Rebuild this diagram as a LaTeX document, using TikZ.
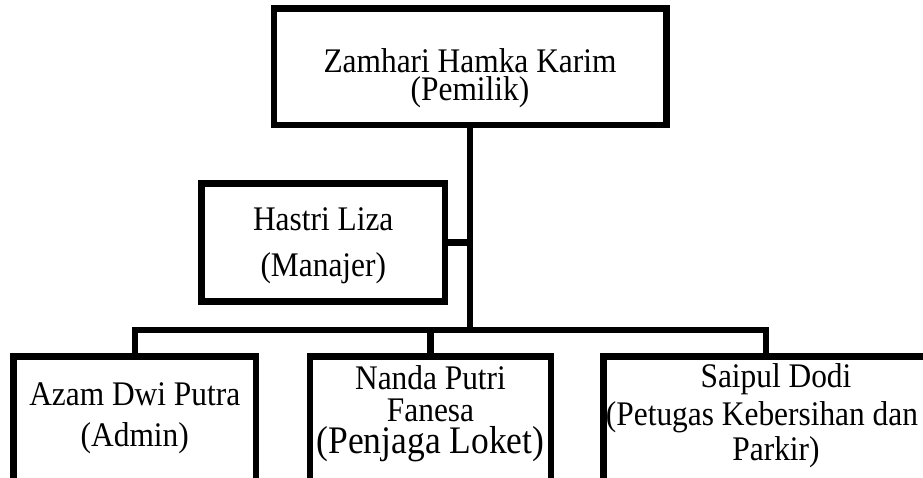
\documentclass[tikz,border=0pt]{standalone}
\usepackage{fontspec}
\setmainfont{Liberation Serif}[FakeStretch=0.91]
\begin{document}
\begin{tikzpicture}[x=1pt,y=-1pt,
		jabatan/.style={draw, line width=6.5pt, align=flush center, inner sep=0pt, anchor=base},
		garis/.style={line width=6.5pt}]
		\useasboundingbox (0,0) rectangle (923,477);
		\clip (0,0) rectangle (923,477);
		% kotak jabatan
		\node[jabatan, text width=392.5pt, text height=63.5pt, text depth=53pt, font=\fontsize{34.5}{28}\selectfont] (pemilik) at (470,72) {Zamhari Hamka Karim\\(Pemilik)};
		\node[jabatan, text width=243.5pt, text height=46.5pt, text depth=71.5pt, font=\fontsize{34.5}{46}\selectfont] (manajer) at (323.25,230) {Hastri Liza\\(Manajer)};
		\node[jabatan, text width=242.5pt, text height=48.5pt, text depth=85pt, font=\fontsize{34.5}{41}\selectfont] (admin) at (134.75,405) {Azam Dwi Putra\\(Admin)};
		\node[jabatan, text width=241pt, text height=32.5pt, text depth=101pt, font=\fontsize{34.5}{32}\selectfont] (loket) at (430.5,389) {Nanda Putri\\Fanesa\\{\fontsize{39}{39}\selectfont (Penjaga Loket)}};
		\node[jabatan, text width=345pt, text height=30.5pt, text depth=103pt, font=\fontsize{34.5}{35}\selectfont] (parkir) at (776,387) {Saipul Dodi\\[3pt](Petugas Kebersihan dan\hspace{28pt}\mbox{}\\Parkir)};
		% garis penghubung
		\coordinate (bus) at (470,330);
		\coordinate (turun) at (766,330);
		\draw[garis] (pemilik.south) -- (pemilik.south |- bus);
		\draw[garis] (manajer.east) -- (manajer.east -| pemilik.south);
		\draw[garis] (admin.north) |- (turun) -- (turun |- parkir.north);
		\draw[garis] (loket.north) -- (loket.north |- bus);
\end{tikzpicture}
\end{document}
